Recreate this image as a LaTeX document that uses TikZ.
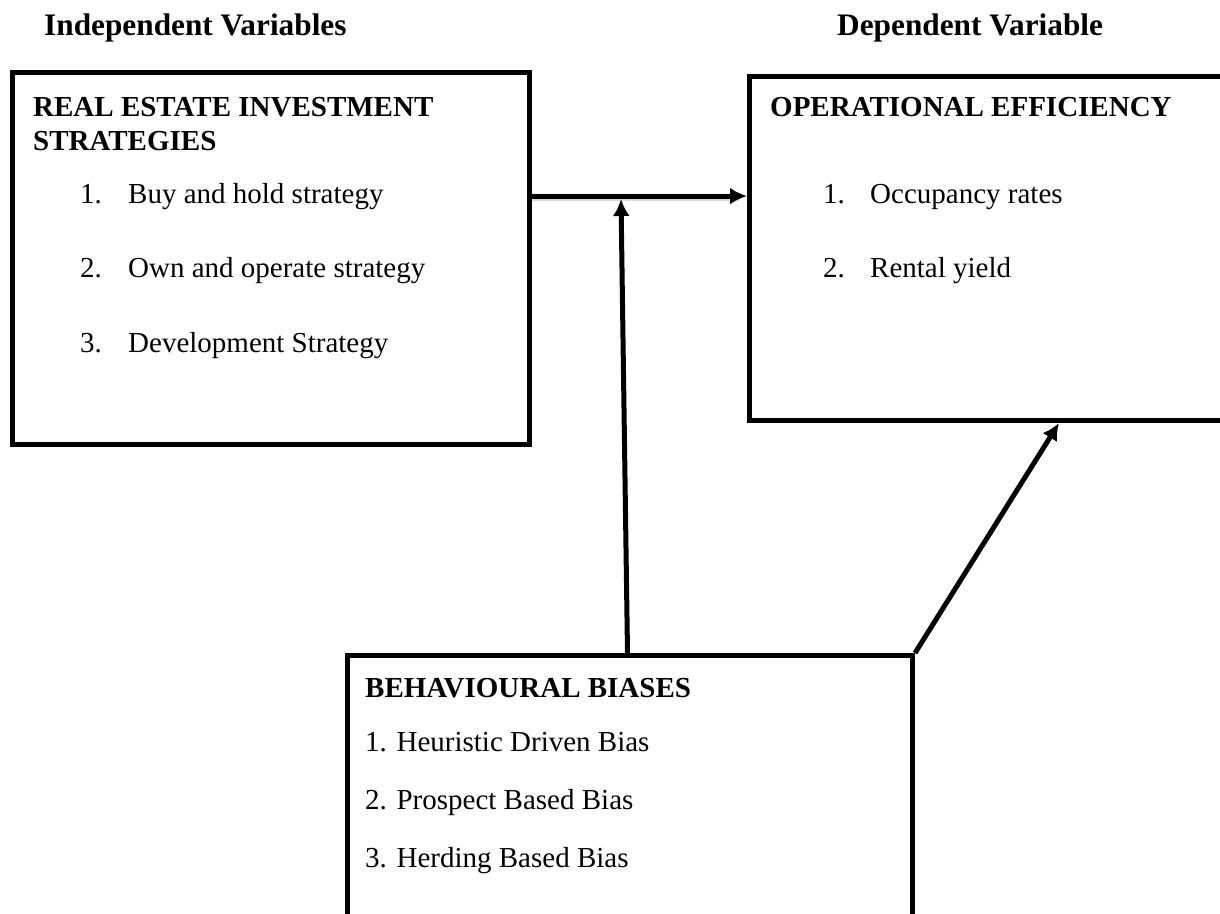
\documentclass[tikz,border=0pt]{standalone}
\usepackage{fontspec}
\setmainfont{Liberation Serif}
\usetikzlibrary{arrows.meta}
\tikzset{
  box/.style={draw=black, line width=5pt, fill=none, inner sep=0pt, anchor=north west},
  txt/.style={anchor=base west, inner sep=0pt, font=\fontsize{29}{34}\selectfont},
  hd/.style={txt, font=\fontsize{29}{34}\selectfont\bfseries},
  top/.style={txt, font=\fontsize{31.3}{36}\selectfont\bfseries},
  arr/.style={line width=5pt, -{Latex[length=17pt,width=17pt]}},
  shade/.style={line width=4pt, draw=black!25, opacity=0.6}
}

\begin{document}
\begin{tikzpicture}[x=1pt, y=-1pt]
			%%%%% START %%%%%
			\useasboundingbox (0, 0) rectangle (1220, 913);
			\clip (0, 0) rectangle (1220, 913);
			
			\node[top] (indep) at (44, 35) {Independent Variables};
			\node[top] (dep) at (837, 35) {Dependent Variable};
			
			% strategies
			\node[box, minimum width=517pt, minimum height=372pt] (strat) at (10, 70) {};
			\node[hd] (strathd) at (33, 116) {REAL ESTATE INVESTMENT};
			\node[hd] (strathdb) at (33, 150) {STRATEGIES};
			\node[txt] (sn1) at (80, 203) {1.};
			\node[txt] (s1) at (128, 203) {Buy and hold strategy};
			\node[txt] (sn2) at (80, 277) {2.};
			\node[txt] (s2) at (128, 277) {Own and operate strategy};
			\node[txt] (sn3) at (80, 352) {3.};
			\node[txt] (s3) at (128, 352) {Development Strategy};
			
			% efficiency
			\node[box, minimum width=490pt, minimum height=344pt] (opeff) at (747, 74) {};
			\node[hd] (opeffhd) at (770, 116) {OPERATIONAL EFFICIENCY};
			\node[txt] (on1) at (823, 203) {1.};
			\node[txt] (o1) at (870, 203) {Occupancy rates};
			\node[txt] (on2) at (823, 277) {2.};
			\node[txt] (o2) at (870, 277) {Rental yield};
			
			% biases
			\node[box, minimum width=565pt, minimum height=300pt] (bias) at (345, 653) {};
			\node[hd] (biashd) at (365, 697) {BEHAVIOURAL BIASES};
			\node[txt] (b1) at (365, 751) {1. Heuristic Driven Bias};
			\node[txt] (b2) at (365, 809) {2. Prospect Based Bias};
			\node[txt] (b3) at (365, 867) {3. Herding Based Bias};
			
			% arrows
			\coordinate (vtip) at (621, 199);
			\draw[shade] ([yshift=-3pt]strat.east |- s1) -- ([xshift=-8pt,yshift=-3pt]opeff.west |- s1);
			\draw[arr] (strat.east |- s1) -- (opeff.west |- s1);
			\draw[arr] ([xshift=-2.5pt]bias.north) -- (vtip);
			\draw[arr] (bias.north east) -- ([xshift=64.5pt]opeff.south);
			
			%%%%% END %%%%%
\end{tikzpicture}
\end{document}
